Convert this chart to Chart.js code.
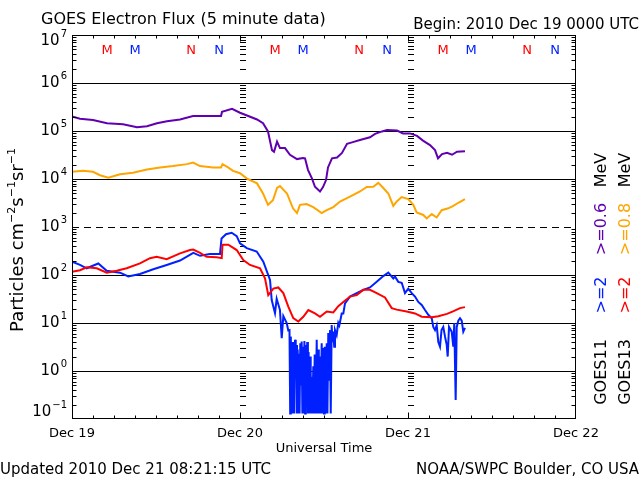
<!DOCTYPE html>
<html><head><meta charset="utf-8">
<script src="https://cdn.jsdelivr.net/npm/chart.js@4/dist/chart.umd.min.js"></script>
<style>html,body{margin:0;padding:0;background:#fff}canvas{display:block}</style>
</head><body>
<canvas id="c" width="640" height="480"></canvas>
<script>
// ---- data (hours since 2010 Dec 19 00:00 UT, flux in particles cm^-2 s^-1 sr^-1) ----
const g11_06_hours = [0,1.14,3.0,5.0,7.29,9.29,10.71,12.14,13.57,15.43,17.29,19.29,21.29,21.43,22.86,24.0,25.0,26.43,27.29,28.0,28.57,28.86,29.29,29.71,30.43,31.14,32.14,33.0,33.29,33.71,34.29,34.71,35.43,35.86,36.29,36.57,37.14,37.86,38.57,39.29,40.0,41.14,42.57,43.29,44.29,45.0,46.43,47.29,48.29,49.29,50.14,51.14,51.86,52.29,52.86,53.57,54.29,55.0,56.14];
const g11_06_flux = [2.0e5,1.8e5,1.7e5,1.45e5,1.38e5,1.2e5,1.26e5,1.45e5,1.6e5,1.74e5,2.05e5,2.05e5,2.05e5,2.5e5,2.9e5,2.4e5,2.1e5,1.74e5,1.45e5,9.8e4,4.0e4,3.7e4,6.0e4,4.4e4,4.4e4,3.2e4,2.6e4,2.75e4,2.7e4,1.55e4,1.02e4,6.9e3,5.5e3,6.8e3,9.5e3,1.74e4,2.7e4,2.8e4,3.5e4,5.4e4,5.8e4,6.5e4,7.4e4,8.7e4,9.8e4,1.05e5,1.02e5,8.9e4,8.9e4,7.9e4,6.3e4,5.1e4,4.0e4,2.7e4,3.3e4,3.5e4,3.2e4,3.7e4,3.8e4];

const g13_08_hours = [0,1.57,3.0,4.0,5.19,6.86,8.71,10.71,12.57,14.43,16.43,17.29,18.29,20.14,21.29,21.5,22.29,23.0,24.0,25.0,26.43,27.29,28.0,28.71,29.29,29.71,30.71,31.57,32.14,32.57,33.5,34.47,35.67,36.39,37.33,38.29,39.71,41.14,42.1,43.04,43.76,44.47,45.19,45.9,46.39,47.1,48.04,48.76,49.24,50.19,50.67,51.39,52.1,52.81,53.76,54.47,55.19,56.14];
const g13_08_flux = [1.41e4,1.48e4,1.41e4,1.2e4,1.07e4,1.26e4,1.35e4,1.58e4,1.74e4,1.86e4,2.04e4,2.2e4,1.86e4,1.74e4,1.74e4,2.04e4,1.74e4,1.48e4,1.32e4,1.02e4,8.1e3,5.0e3,2.9e3,3.6e3,6.5e3,7.1e3,5.0e3,2.45e3,1.95e3,2.9e3,3.0e3,2.6e3,1.95e3,2.25e3,2.6e3,3.4e3,4.3e3,5.5e3,6.8e3,6.9e3,8.3e3,6.5e3,5.0e3,2.75e3,3.4e3,4.2e3,3.8e3,2.9e3,2.0e3,1.78e3,1.51e3,1.86e3,1.58e3,2.24e3,2.45e3,2.75e3,3.2e3,3.8e3];

const g13_2_hours = [0,1.14,2.1,3.53,4.96,6.39,7.81,9.71,11.14,12.1,13.53,15.43,16.86,17.33,18.29,19.24,20.67,21.39,21.5,22.33,23.53,24.47,25.43,26.86,27.57,28.04,28.76,29.47,30.19,30.9,31.61,32.33,33.04,33.76,34.71,35.43,36.39,37.33,38.04,38.76,39.71,40.67,41.61,42.57,43.53,44.71,45.67,46.39,47.81,49.0,49.96,51.39,52.33,53.57,54.43,55.43,56.14];
const g13_2_flux = [117,126,145,138,112,123,138,174,224,240,214,282,331,339,288,240,234,224,427,427,331,204,162,138,85,38,52,55,42,22,12.6,10.7,13.5,18.6,15.8,13.5,17.4,16.6,22.4,27.5,35.5,38,49,49,42,34,20.4,19,17.4,15.8,13.5,13.2,13.8,15.5,17.4,20.4,21.4];

const g11_2_hours = [0,1.14,2.1,3.76,4.96,6.86,8.04,9.71,11.61,13.53,15.43,17.33,18.29,19.71,21.14,21.36,22.0,22.81,23.53,24.0,24.96,26.39,27.33,28.29,28.53,29.0,29.24,29.71,29.96,30.19,30.67,30.9,
  31.07,31.17,31.26,31.36,31.46,31.57,31.66,31.76,31.86,31.96,32.06,32.14,32.24,32.33,32.43,32.51,32.61,32.71,32.81,32.91,33.0,33.1,33.2,33.3,33.4,33.5,33.6,33.7,33.8,33.9,34.0,34.1,34.24,34.34,34.47,34.57,34.67,34.79,34.96,35.06,35.16,35.26,35.43,35.53,35.67,35.77,35.9,36.0,36.1,36.2,36.39,36.49,36.61,36.71,36.86,36.96,37.1,37.2,37.33,37.46,37.57,37.81,38.04,38.19,38.53,38.76,39.0,
  39.71,40.67,41.61,42.57,43.53,44.47,45.19,45.9,46.14,46.61,47.1,47.57,48.04,48.53,49.0,49.47,49.96,50.43,50.9,51.39,51.61,51.86,52.1,52.33,52.57,52.79,53.04,53.29,53.53,53.67,53.86,54.24,54.47,54.61,54.81,54.96,55.19,55.43,55.67,55.9,56.14];
const g11_2_flux = [190,162,138,174,123,112,93,105,132,162,200,288,251,275,275,575,708,759,646,457,363,309,190,79,30,16,32,18.6,4.8,14,10,7,
  7.1,0.13,5.2,0.13,4.0,0.13,1.7,0.13,4.5,1.6,3.5,0.13,2.8,0.13,2.3,0.13,3.8,0.5,4.1,0.13,3.2,0.13,4.2,0.13,3.5,0.32,4.0,0.13,2.5,0.13,2.0,0.13,0.76,0.13,1.26,0.13,2.2,0.13,4.5,0.13,2.8,0.13,2.0,0.13,3.8,0.13,3.0,0.13,3.2,0.13,3.8,0.13,6.2,0.63,7.1,0.13,9.1,4.0,6.6,3.2,7.1,5.6,10,8.9,15.8,15.8,25.7,
  35.5,41.7,49,55,72,95,112,85,93,72,69,42,52,42,35.5,27.5,23.7,18.6,14.8,12.6,8.3,7.1,8.9,4.0,3.2,7.1,8.3,5.2,3.5,2.0,8.3,6.6,3.2,10,0.25,8.3,11.2,12.6,11.2,6.6,7.9];

// tick / label content
const dayHours = [0,24,48,72];
const dayLabels = ['Dec 19','Dec 20','Dec 21','Dec 22'];
const yExponents = [-1,0,1,2,3,4,5,6,7];
const solidGrid = [1e0,1e1,1e2,1e4,1e5,1e6];
const dashedGrid = [1e3];
const g13Midnight = [5,29,53], g13Noon = [17,41,65];
const g11Midnight = [9,33,57], g11Noon = [21,45,69];

const PURPLE='#6000b0', ORANGE='#ffa500', RED='#ff0000', BLUE='#0020ff';
const FONT='"DejaVu Sans", sans-serif';

function pts(h,v){return h.map((t,i)=>({x:t,y:v[i]}));}

function hline(ctx,x1,x2,y){ctx.beginPath();ctx.moveTo(x1,y);ctx.lineTo(x2,y);ctx.stroke();}
function vline(ctx,x,y1,y2){ctx.beginPath();ctx.moveTo(x,y1);ctx.lineTo(x,y2);ctx.stroke();}

const goesPlugin = {
  id:'goes',
  beforeDatasetsDraw(chart){
    const {ctx, chartArea:a, scales:{x,y}} = chart;
    ctx.save();
    ctx.strokeStyle='#000'; ctx.lineWidth=1;
    solidGrid.forEach(v=>{const py=Math.round(y.getPixelForValue(v))+0.5; hline(ctx,a.left,a.right,py);});
    ctx.setLineDash([7,5]);
    dashedGrid.forEach(v=>{const py=Math.round(y.getPixelForValue(v))+0.5; hline(ctx,a.left,a.right,py);});
    ctx.setLineDash([]);
    // minor log ticks along day boundaries
    [24,48].forEach(h=>{
      const px=Math.round(x.getPixelForValue(h));
      for(let k=-1;k<7;k++) for(let m=2;m<=9;m++){
        const py=Math.round(y.getPixelForValue(m*Math.pow(10,k)))+0.5;
        hline(ctx,px,px+6,py);
      }
    });
    ctx.restore();
  },
  afterDatasetsDraw(chart){
    const {ctx, chartArea:a, scales:{x,y}} = chart;
    ctx.save();
    ctx.strokeStyle='#000'; ctx.lineWidth=1; ctx.fillStyle='#000';
    const L=a.left+0.5, R=a.right-0.5, T=a.top+0.5, B=a.bottom-0.5;
    ctx.strokeRect(L,T,R-L,B-T);
    // left/right minor ticks
    for(let k=-1;k<7;k++) for(let m=2;m<=9;m++){
      const py=Math.round(y.getPixelForValue(m*Math.pow(10,k)))+0.5;
      hline(ctx,L,L+4,py); hline(ctx,R-4,R,py);
    }
    // time ticks every 3 h
    for(let h=3;h<72;h+=3){
      const px=Math.round(x.getPixelForValue(h))+0.5;
      const len=(h%24===0)?6:3;
      vline(ctx,px,B-len,B); vline(ctx,px,T,T+len);
    }
    // y labels 10^n
    ctx.textBaseline='middle';
    yExponents.forEach(e=>{
      let cy=y.getPixelForValue(Math.pow(10,e));
      cy=Math.max(41,Math.min(412,cy));
      ctx.font='10px '+FONT;
      const es=String(e).replace('-','\u2212');
      const ew=ctx.measureText(es).width;
      ctx.textAlign='left';
      ctx.fillText(es,67-ew,cy-7);
      ctx.font='15px '+FONT;
      ctx.textAlign='right';
      ctx.fillText('10',66-ew,cy);
    });
    // x labels
    ctx.font='13px '+FONT; ctx.textAlign='center'; ctx.textBaseline='middle';
    dayHours.forEach((h,i)=>ctx.fillText(dayLabels[i],x.getPixelForValue(h),434));
    ctx.fillText('Universal Time',324,449);
    // M / N markers
    const mark=(arr,txt,col)=>{ctx.fillStyle=col;arr.forEach(h=>ctx.fillText(txt,x.getPixelForValue(h),51));};
    ctx.font='13px '+FONT;
    mark(g13Midnight,'M',RED); mark(g11Midnight,'M',BLUE);
    mark(g13Noon,'N',RED); mark(g11Noon,'N',BLUE);
    // titles
    ctx.fillStyle='#000';
    ctx.textBaseline='alphabetic';
    ctx.font='16px '+FONT; ctx.textAlign='left';
    ctx.fillText('GOES Electron Flux (5 minute data)',41,24);
    ctx.font='15px '+FONT; ctx.textAlign='right';
    ctx.fillText('Begin: 2010 Dec 19 0000 UTC',639,29);
    ctx.font='15px '+FONT; ctx.textAlign='left';
    ctx.fillText('Updated 2010 Dec 21 08:21:15 UTC',0,474);
    ctx.textAlign='right';
    ctx.fillText('NOAA/SWPC Boulder, CO USA',639,474);
    // rotated y title
    const parts=[['Particles cm',0],['\u22122',1],['s',0],['\u22121',1],['sr',0],['\u22121',1]];
    ctx.save();
    ctx.translate(23,240); ctx.rotate(-Math.PI/2);
    const big='18px '+FONT, small='11px '+FONT;
    let tw=0; parts.forEach(p=>{ctx.font=p[1]?small:big; tw+=ctx.measureText(p[0]).width;});
    let cx=-tw/2; ctx.textAlign='left';
    parts.forEach(p=>{ctx.font=p[1]?small:big; ctx.fillText(p[0],cx,p[1]?-8:0); cx+=ctx.measureText(p[0]).width;});
    ctx.restore();
    // rotated legend
    const leg=(bx,items)=>{
      items.forEach(([txt,col,cyy])=>{
        ctx.save(); ctx.translate(bx,cyy); ctx.rotate(-Math.PI/2);
        ctx.font='16px '+FONT; ctx.textAlign='center'; ctx.textBaseline='alphabetic';
        ctx.fillStyle=col; ctx.fillText(txt,0,0); ctx.restore();
      });
    };
    leg(606,[['GOES11','#000',372],['>=2',BLUE,295],['>=0.6',PURPLE,229],['MeV','#000',170]]);
    leg(630,[['GOES13','#000',372],['>=2',RED,295],['>=0.8',ORANGE,229],['MeV','#000',170]]);
    ctx.restore();
  }
};

new Chart(document.getElementById('c'),{
  type:'line',
  data:{datasets:[
    {label:'GOES13 >=2 MeV',data:pts(g13_2_hours,g13_2_flux),borderColor:RED,order:1},
    {label:'GOES11 >=2 MeV',data:pts(g11_2_hours,g11_2_flux),borderColor:BLUE,order:2},
    {label:'GOES13 >=0.8 MeV',data:pts(g13_08_hours,g13_08_flux),borderColor:ORANGE,order:3},
    {label:'GOES11 >=0.6 MeV',data:pts(g11_06_hours,g11_06_flux),borderColor:PURPLE,order:4}
  ]},
  options:{
    responsive:false, animation:false, devicePixelRatio:1,
    layout:{padding:{left:72,right:64,top:35,bottom:61}},
    scales:{
      x:{type:'linear',min:0,max:72,display:false},
      y:{type:'logarithmic',min:0.1,max:1e7,display:false}
    },
    elements:{point:{radius:0},line:{borderWidth:2,tension:0,fill:false}},
    plugins:{legend:{display:false},tooltip:{enabled:false}}
  },
  plugins:[goesPlugin]
});
</script>
</body></html>
